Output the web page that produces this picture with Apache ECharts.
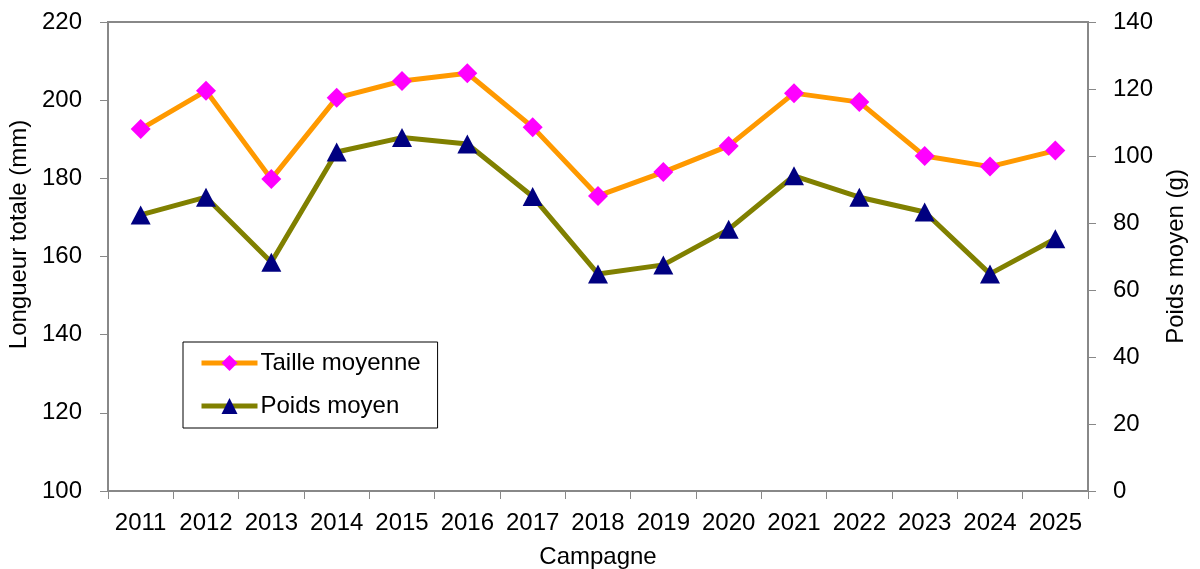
<!DOCTYPE html>
<html lang="fr" style="height: 100%">
<head>
    <meta charset="utf-8">
    <title>Taille et poids moyens par campagne</title>
</head>
<body style="height: 100%; margin: 0; background: #ffffff">
<div id="container" style="width: 1200px; height: 569px"></div>

<script type="text/javascript" src="https://cdn.jsdelivr.net/npm/echarts@6/dist/echarts.min.js"></script>
<script type="text/javascript">
    // années de campagne
    var campagnes = ['2011', '2012', '2013', '2014', '2015', '2016', '2017', '2018',
        '2019', '2020', '2021', '2022', '2023', '2024', '2025'];
    // longueur totale moyenne (mm), axe de gauche
    var tailleMoyenne = [192.6, 202.4, 179.8, 200.6, 204.9, 206.9, 193.1, 175.5,
        181.6, 188.3, 201.8, 199.5, 185.7, 183.0, 187.1];
    // poids moyen (g), axe de droite
    var poidsMoyen = [82.4, 87.7, 68.3, 101.2, 105.5, 103.6, 87.9, 64.8,
        67.5, 78.1, 94.1, 87.7, 83.3, 64.8, 75.3];

    var axisGris = '#888888';
    var police = 'Liberation Sans, Arial, sans-serif';
    var taille = 24;

    var dom = document.getElementById('container');
    var myChart = echarts.init(dom, null, {renderer: 'canvas'});

    var option = {
        backgroundColor: '#ffffff',
        animation: false,
        textStyle: {fontFamily: police, color: '#000000'},
        grid: {
            left: 108,
            right: 112,
            top: 22,
            bottom: 78,
            outerBoundsMode: 'none',
            show: true,
            borderColor: axisGris,
            borderWidth: 2
        },
        legend: {
            orient: 'vertical',
            left: 183,
            top: 342,
            padding: [9, 17, 10, 16],
            itemGap: 19,
            itemWidth: 56,
            itemHeight: 20,
            borderColor: '#000000',
            borderWidth: 1,
            lineStyle: {width: 5},
            textStyle: {fontSize: taille, fontFamily: police, color: '#000000', padding: [0, 0, 0, -2]},
            data: ['Taille moyenne', 'Poids moyen']
        },
        xAxis: {
            type: 'category',
            data: campagnes,
            name: 'Campagne',
            nameLocation: 'middle',
            nameGap: 54,
            nameTextStyle: {fontSize: taille, fontFamily: police, color: '#000000'},
            axisLine: {lineStyle: {color: axisGris, width: 2}},
            axisTick: {show: true, length: 8, lineStyle: {color: axisGris}},
            axisLabel: {fontSize: taille, fontFamily: police, color: '#000000', margin: 20, interval: 0},
            splitLine: {show: false}
        },
        yAxis: [
            {
                type: 'value',
                min: 100,
                max: 220,
                interval: 20,
                name: 'Longueur totale (mm)',
                nameLocation: 'middle',
                nameGap: 73,
                nameTextStyle: {fontSize: taille, fontFamily: police, color: '#000000', padding: [0, 0, 0, 44]},
                axisLine: {show: true, lineStyle: {color: axisGris, width: 2}},
                axisTick: {show: true, length: 8, lineStyle: {color: axisGris}},
                axisLabel: {fontSize: taille, fontFamily: police, color: '#000000', margin: 26},
                splitLine: {show: false}
            },
            {
                type: 'value',
                min: 0,
                max: 140,
                interval: 20,
                position: 'right',
                name: 'Poids moyen (g)',
                nameLocation: 'middle',
                nameGap: 74,
                nameTextStyle: {fontSize: taille, fontFamily: police, color: '#000000'},
                axisLine: {show: true, lineStyle: {color: axisGris, width: 2}},
                axisTick: {show: true, length: 8, lineStyle: {color: axisGris}},
                axisLabel: {fontSize: taille, fontFamily: police, color: '#000000', margin: 25},
                splitLine: {show: false}
            }
        ],
        series: [
            {
                name: 'Taille moyenne',
                type: 'line',
                yAxisIndex: 0,
                data: tailleMoyenne,
                symbol: 'diamond',
                symbolSize: 20,
                lineStyle: {color: '#ff9900', width: 5},
                itemStyle: {color: '#ff00ff', borderWidth: 0},
                z: 3
            },
            {
                name: 'Poids moyen',
                type: 'line',
                yAxisIndex: 1,
                data: poidsMoyen,
                symbol: 'triangle',
                symbolSize: [20, 19],
                lineStyle: {color: '#808000', width: 5},
                itemStyle: {color: '#000080', borderWidth: 0},
                z: 2
            }
        ]
    };

    myChart.setOption(option);
    window.addEventListener('resize', myChart.resize);
</script>
</body>
</html>
